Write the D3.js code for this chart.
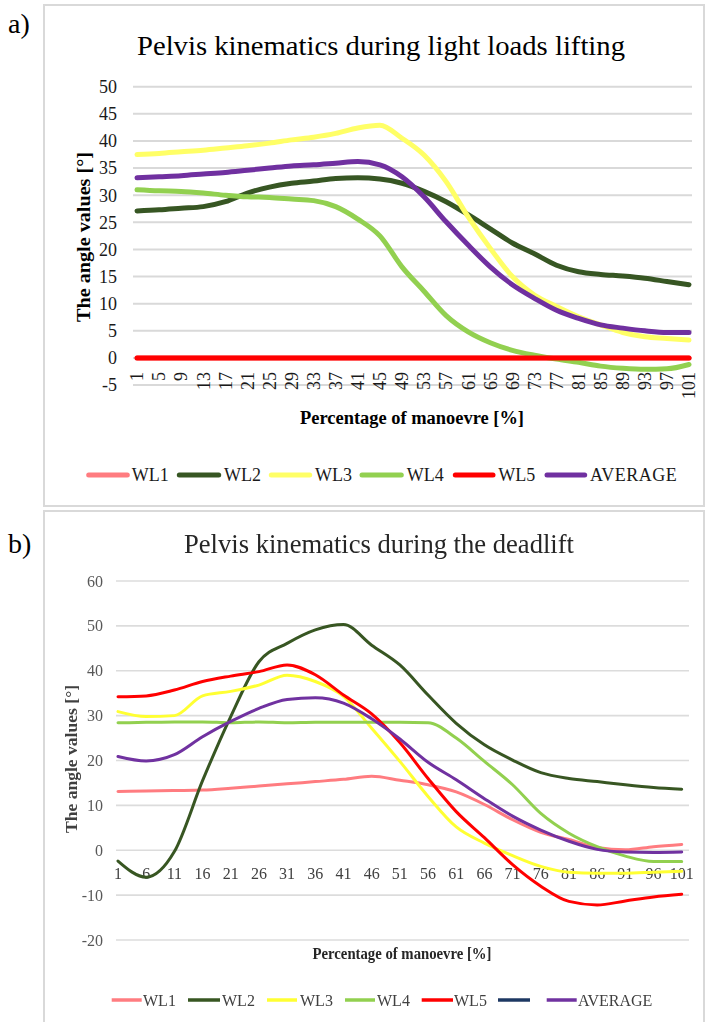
<!DOCTYPE html>
<html>
<head>
<meta charset="utf-8">
<script src="https://cdn.jsdelivr.net/npm/d3@7"></script>
<style>
  html, body { margin: 0; padding: 0; background: #fff; }
  svg { display: block; }
</style>
</head>
<body>
<svg id="fig" width="705" height="1022"></svg>
<script>
// ---------- Panel a: light loads lifting ----------
const pctA = [1,5,9,13,17,21,25,29,33,37,41,45,49,53,57,61,65,69,73,77,81,85,89,93,97,101];
const wl1A = [0,0,0,0,0,0,0,0,0,0,0,0,0,0,0,0,0,0,0,0,0,0,0,0,0,0];
const wl2A = [27.1,27.3,27.6,27.9,28.8,30.4,31.5,32.2,32.6,33.1,33.2,33.0,32.2,30.7,28.8,26.4,23.8,21.2,19.2,17.1,15.9,15.4,15.1,14.7,14.1,13.5];
const wl3A = [37.5,37.7,38.0,38.3,38.7,39.1,39.6,40.2,40.7,41.4,42.4,42.9,40.5,37.4,32.5,26.0,20.2,15.0,11.6,9.5,7.6,6.1,4.7,3.9,3.6,3.3];
const wl4A = [31.0,30.8,30.7,30.4,30.0,29.7,29.6,29.3,29.0,27.9,25.6,22.5,16.8,12.3,7.8,4.8,2.8,1.4,0.5,-0.2,-0.8,-1.5,-1.9,-2.1,-2.0,-1.2];
const wl5A = [0,0,0,0,0,0,0,0,0,0,0,0,0,0,0,0,0,0,0,0,0,0,0,0,0,0];
const avgA = [33.2,33.4,33.6,33.9,34.2,34.6,35.0,35.4,35.6,35.9,36.2,35.6,33.4,29.7,25.1,20.8,16.8,13.5,11.0,8.8,7.3,6.1,5.5,5.0,4.7,4.7];
const yTicksA = [-5,0,5,10,15,20,25,30,35,40,45,50];

// ---------- Panel b: deadlift ----------
const pctB = [1,6,11,16,21,26,31,36,41,46,51,56,61,66,71,76,81,86,91,96,101];
const wl1B = [13.1,13.2,13.3,13.4,13.8,14.3,14.8,15.3,15.8,16.5,15.6,14.6,13.0,10.2,6.8,4.0,2.4,0.6,0.1,0.8,1.3];
const wl2B = [-2.4,-6.0,-0.3,15.5,29.8,42.0,46.1,49.1,50.3,45.7,41.3,34.6,28.3,23.5,20.1,17.3,16.0,15.3,14.6,14.0,13.6];
const wl3B = [30.9,29.8,30.0,34.4,35.4,36.8,39.0,37.6,34.3,27.2,19.8,12.0,5.2,1.6,-1.2,-3.6,-4.9,-5.1,-5.1,-4.9,-4.7];
const wl4B = [28.4,28.5,28.6,28.6,28.4,28.6,28.4,28.5,28.5,28.5,28.5,28.4,25.0,19.8,14.6,8.2,3.8,0.8,-1.3,-2.5,-2.5];
const wl5B = [34.2,34.4,35.7,37.6,38.8,39.8,41.3,39.1,34.6,30.4,24.0,16.0,8.6,2.8,-3.2,-8.0,-11.4,-12.2,-11.3,-10.4,-9.8];
const blankB = [];
const avgB = [20.9,19.9,21.3,25.3,28.7,31.6,33.6,34.0,32.8,29.3,24.8,19.6,15.7,11.5,7.6,4.5,2.0,0.2,-0.4,-0.5,-0.4];
const yTicksB = [-20,-10,0,10,20,30,40,50,60];

const seriesNames = ["WL1","WL2","WL3","WL4","WL5","AVERAGE"];
const seriesNamesB = ["WL1","WL2","WL3","WL4","WL5","","AVERAGE"];
const colorsA = ["#ff7c80","#375623","#ffff66","#92d050","#ff0000","#7030a0"];
const colorsB = ["#ff7c80","#375623","#ffff33","#92d050","#ff0000","#1f3864","#7030a0"];

const svg = d3.select("#fig");
const serif = "'Liberation Serif', 'Times New Roman', serif";

// blur for the second panel
const defs = svg.append("defs");
defs.append("filter").attr("id","soft").attr("x","-5%").attr("y","-5%").attr("width","110%").attr("height","110%")
  .append("feGaussianBlur").attr("stdDeviation", 0.55);

// ================= Panel a =================
const ga = svg.append("g");
ga.append("rect").attr("x",44).attr("y",5).attr("width",660).attr("height",501)
  .attr("fill","none").attr("stroke","#d9d9d9").attr("stroke-width",2);
svg.append("text").attr("x",8).attr("y",33).attr("font-family",serif).attr("font-size",28).text("a)");
ga.append("text").attr("x",381).attr("y",55).attr("text-anchor","middle")
  .attr("font-family",serif).attr("font-size",28).attr("textLength",488).attr("lengthAdjust","spacingAndGlyphs")
  .text("Pelvis kinematics during  light loads lifting");

const xA = d3.scaleLinear().domain([1,101]).range([137,689]);
const yA = d3.scaleLinear().domain([-5,50]).range([385.1,86.7]);

ga.append("g").selectAll("line").data(yTicksA).join("line")
  .attr("x1",133).attr("x2",692).attr("y1",d=>yA(d)).attr("y2",d=>yA(d))
  .attr("stroke","#d9d9d9").attr("stroke-width",2);
ga.append("g").selectAll("text").data(yTicksA).join("text")
  .attr("x",117).attr("y",d=>yA(d)).attr("dy","0.35em").attr("text-anchor","end")
  .attr("font-family",serif).attr("font-size",18).attr("fill","#1a1a1a").text(d=>d);
ga.append("g").selectAll("text").data(pctA).join("text")
  .attr("transform",d=>`translate(${xA(d)},372) rotate(-90)`).attr("dy","0.35em").attr("text-anchor","end")
  .attr("font-family",serif).attr("font-size",18).attr("fill","#1a1a1a").text(d=>d);
ga.append("text").attr("transform","translate(84,237) rotate(-90)").attr("text-anchor","middle").attr("dy","0.35em")
  .attr("font-family",serif).attr("font-size",18).attr("font-weight","bold")
  .attr("textLength",170).attr("lengthAdjust","spacingAndGlyphs").text("The angle values [°]");
ga.append("text").attr("x",412).attr("y",424).attr("text-anchor","middle")
  .attr("font-family",serif).attr("font-size",18).attr("font-weight","bold")
  .attr("textLength",224).attr("lengthAdjust","spacingAndGlyphs").text("Percentage of manoevre [%]");

const lineA = d3.line().x(d=>xA(d[0])).y(d=>yA(d[1])).curve(d3.curveMonotoneX);
[wl1A,wl2A,wl3A,wl4A,wl5A,avgA].forEach((vals,i)=>{
  ga.append("path").datum(pctA.map((p,j)=>[p,vals[j]])).attr("d",lineA)
    .attr("fill","none").attr("stroke",colorsA[i]).attr("stroke-width",5)
    .attr("stroke-linecap","round").attr("stroke-linejoin","round");
});

const legA = [[86.7,129.3,131.7],[177.3,220.7,224],[269.3,311.7,315],[360,403.3,406.7],[453.3,495,498.3],[545,586.7,590]];
seriesNames.forEach((n,i)=>{
  const [x1,x2,tx] = legA[i];
  ga.append("line").attr("x1",x1+2).attr("x2",x2-2).attr("y1",475).attr("y2",475)
    .attr("stroke",colorsA[i]).attr("stroke-width",5).attr("stroke-linecap","round");
  ga.append("text").attr("x",tx).attr("y",475).attr("dy","0.35em")
    .attr("font-family",serif).attr("font-size",18).attr("fill","#1a1a1a")
    .attr("letter-spacing", n==="AVERAGE" ? 0.5 : 0).text(n);
});

// ================= Panel b =================
const gb = svg.append("g").attr("filter","url(#soft)");
gb.append("rect").attr("x",44).attr("y",511).attr("width",660).attr("height",520)
  .attr("fill","none").attr("stroke","#d9d9d9").attr("stroke-width",2);
svg.append("text").attr("x",8).attr("y",553).attr("font-family",serif).attr("font-size",28).text("b)");
gb.append("text").attr("x",379).attr("y",553).attr("text-anchor","middle")
  .attr("font-family",serif).attr("font-size",27).attr("fill","#262626")
  .attr("textLength",390).attr("lengthAdjust","spacingAndGlyphs")
  .text("Pelvis kinematics during the deadlift");

const xB = d3.scaleLinear().domain([1,101]).range([118,681.7]);
const yB = d3.scaleLinear().domain([-20,60]).range([940,581]);

gb.append("g").selectAll("line").data(yTicksB).join("line")
  .attr("x1",116).attr("x2",689).attr("y1",d=>yB(d)).attr("y2",d=>yB(d))
  .attr("stroke","#dcdcdc").attr("stroke-width",1.6);
gb.append("g").selectAll("text").data(yTicksB).join("text")
  .attr("x",103).attr("y",d=>yB(d)).attr("dy","0.35em").attr("text-anchor","end")
  .attr("font-family",serif).attr("font-size",16).attr("fill","#595959").text(d=>d);
gb.append("g").selectAll("text").data(pctB).join("text")
  .attr("x",d=>xB(d)).attr("y",873).attr("dy","0.35em").attr("text-anchor","middle")
  .attr("font-family",serif).attr("font-size",16).attr("fill","#404040").text(d=>d);
gb.append("text").attr("transform","translate(71,759) rotate(-90)").attr("text-anchor","middle").attr("dy","0.35em")
  .attr("font-family",serif).attr("font-size",16).attr("font-weight","bold").attr("fill","#404040")
  .attr("textLength",148).attr("lengthAdjust","spacingAndGlyphs").text("The angle values [°]");
gb.append("text").attr("x",402).attr("y",953).attr("dy","0.35em").attr("text-anchor","middle")
  .attr("font-family",serif).attr("font-size",16).attr("font-weight","bold").attr("fill","#262626")
  .attr("textLength",179).attr("lengthAdjust","spacingAndGlyphs").text("Percentage of manoevre [%]");

const lineB = d3.line().x(d=>xB(d[0])).y(d=>yB(d[1])).curve(d3.curveMonotoneX);
[wl1B,wl2B,wl3B,wl4B,wl5B,blankB,avgB].forEach((vals,i)=>{
  if (!vals.length) return;
  gb.append("path").datum(pctB.map((p,j)=>[p,vals[j]])).attr("d",lineB)
    .attr("fill","none").attr("stroke",colorsB[i]).attr("stroke-width",3)
    .attr("stroke-linecap","round").attr("stroke-linejoin","round");
});

const legB = [[111.7,141.7,143],[188,220,222],[267,297,300],[345,375,377],[421.7,453,454],[498,530,0],[546.7,576.7,578]];
seriesNamesB.forEach((n,i)=>{
  const [x1,x2,tx] = legB[i];
  gb.append("line").attr("x1",x1).attr("x2",x2).attr("y1",1000).attr("y2",1000)
    .attr("stroke",colorsB[i]).attr("stroke-width",3.5);
  if (n) gb.append("text").attr("x",tx).attr("y",1000).attr("dy","0.35em")
    .attr("font-family",serif).attr("font-size",16).attr("fill","#404040").text(n);
});
</script>
</body>
</html>
